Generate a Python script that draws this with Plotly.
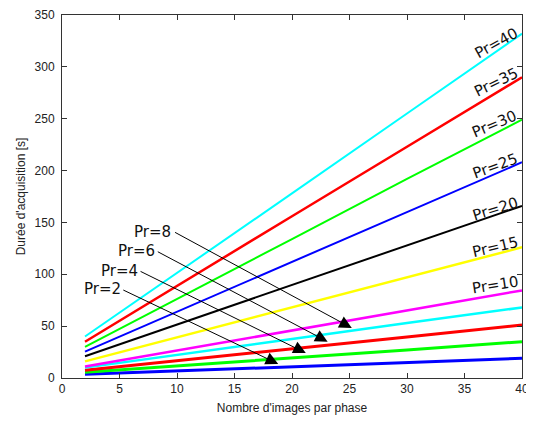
import plotly.graph_objects as go

# Data
n_images = [2, 10, 20, 30, 40]
pr_values = [40, 35, 30, 25, 20, 15, 10, 8, 6, 4, 2]
durations = {
    40: [40, 101, 178, 255, 332],
    35: [35, 89, 156, 223, 290],
    30: [30, 76, 134, 192, 249],
    25: [25.5, 64, 112, 160, 208],
    20: [21, 51.5, 90, 128, 166],
    15: [16, 39, 68, 97, 126],
    10: [11, 26.5, 46, 65, 84.5],
    8: [10, 22, 37.5, 53, 68],
    6: [7.5, 16.5, 28, 39.5, 51],
    4: [5.5, 11.5, 19.5, 27, 35],
    2: [3.5, 6.8, 11, 15, 19],
}
colors = {
    40: "#00FFFF", 35: "#FF0000", 30: "#00FF00", 25: "#0000FF", 20: "#000000",
    15: "#FFFF00", 10: "#FF00FF", 8: "#00FFFF", 6: "#FF0000", 4: "#00FF00", 2: "#0000FF",
}
widths = {40: 2, 35: 2.5, 30: 2, 25: 2, 20: 2, 15: 2.5, 10: 2.5, 8: 2.5, 6: 3, 4: 3, 2: 3}

# Rotated labels at the right end: (x, y, angle)
right_labels = {
    40: (37.8, 323, -29), 35: (37.8, 285, -26), 30: (37.6, 245, -23),
    25: (37.7, 204, -20), 20: (37.7, 163, -17), 15: (37.7, 126, -13), 10: (37.7, 89.5, -9),
}
# Arrow labels: text position, arrow tail, arrow tip
left_labels = {
    8: ((7.9, 141.2), (9.7, 141.2), (25.2, 48.2)),
    6: ((6.5, 122.5), (8.2, 122.5), (23.1, 35)),
    4: ((5.0, 103.5), (6.7, 103.5), (21.2, 24.1)),
    2: ((3.55, 85.5), (5.2, 85.5), (18.8, 13.6)),
}

fig = go.Figure()
for pr in reversed(pr_values):
    fig.add_trace(go.Scatter(
        x=n_images, y=durations[pr], mode="lines",
        line=dict(color=colors[pr], width=widths[pr]),
        showlegend=False, hoverinfo="skip",
    ))

label_font = dict(family="DejaVu Sans", size=15, color="#111")
for pr, (x, y, ang) in right_labels.items():
    fig.add_annotation(x=x, y=y, xref="x", yref="y", text=f"Pr={pr}",
                       showarrow=False, textangle=ang, font=label_font)

for pr, (tpos, tail, tip) in left_labels.items():
    fig.add_annotation(x=tpos[0], y=tpos[1], xref="x", yref="y", text=f"Pr={pr}",
                       showarrow=False, font=label_font)
    fig.add_annotation(x=tip[0], y=tip[1], ax=tail[0], ay=tail[1],
                       xref="x", yref="y", axref="x", ayref="y", text="",
                       showarrow=True, arrowhead=2, arrowsize=2.5, arrowwidth=1,
                       arrowcolor="#000")

tick_font = dict(family="Liberation Sans, Arial", size=12, color="#222")
# The page body has an 8px margin, so the figure is sized/offset to compensate.
fig.update_layout(
    width=526, height=418,
    margin=dict(l=54, r=12, t=7, b=48, autoexpand=False),
    paper_bgcolor="white", plot_bgcolor="white",
    xaxis=dict(range=[0, 40], tickvals=[0, 5, 10, 15, 20, 25, 30, 35, 40],
               ticks="inside", ticklen=5, tickcolor="#333", automargin=False,
               showline=True, linecolor="#333", linewidth=1, mirror="ticks",
               showgrid=False, zeroline=False, tickfont=tick_font,
               title=dict(text="Nombre d'images par phase",
                          font=dict(family="Liberation Sans, Arial", size=12, color="#222"),
                          standoff=8)),
    yaxis=dict(range=[0, 350], tickvals=[0, 50, 100, 150, 200, 250, 300, 350],
               ticks="inside", ticklen=5, tickcolor="#333", automargin=False,
               showline=True, linecolor="#333", linewidth=1, mirror="ticks",
               showgrid=False, zeroline=False, tickfont=tick_font,
               ticklabelstandoff=4,
               title=dict(text="Durée d'acquisition [s]",
                          font=dict(family="Liberation Sans, Arial", size=12, color="#222"),
                          standoff=6)),
)

fig.write_html("out.html")
